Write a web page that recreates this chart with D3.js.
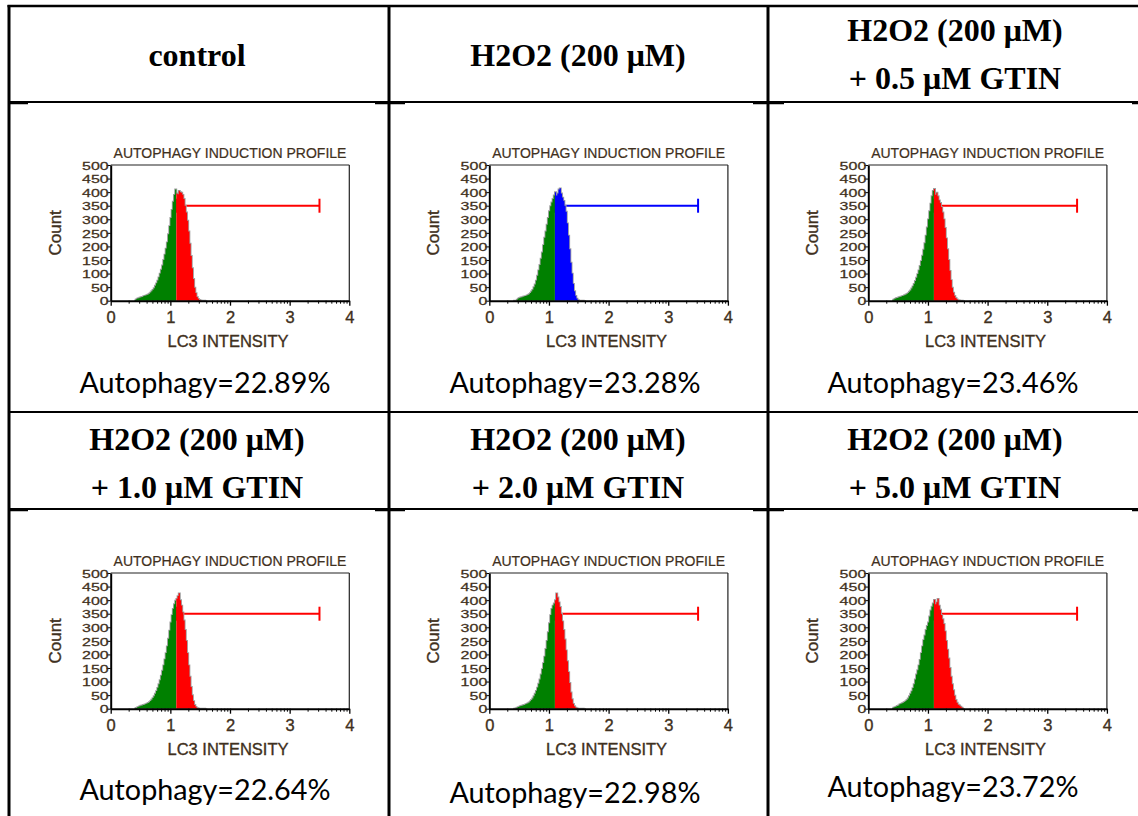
<!DOCTYPE html>
<html>
<head>
<meta charset="utf-8">
<script src="https://cdn.jsdelivr.net/npm/d3@7"></script>
<style>
  body { margin: 0; background: #ffffff; }
  svg { display: block; }
</style>
</head>
<body>
<svg id="chart" width="1138" height="816"></svg>
<script>
// ---------- data ----------
// lower edges of the LC3 intensity bins (log10 units)
const lc3Bins = [
  0.40, 0.42, 0.44, 0.46, 0.48, 0.50, 0.52, 0.54, 0.56, 0.58,
  0.60, 0.62, 0.64, 0.66, 0.68, 0.70, 0.72, 0.74, 0.76, 0.78,
  0.80, 0.82, 0.84, 0.86, 0.88, 0.90, 0.92, 0.94, 0.96, 0.98,
  1.00, 1.02, 1.04, 1.06, 1.08, 1.10, 1.12, 1.14, 1.16, 1.18,
  1.20, 1.22, 1.24, 1.26, 1.28, 1.30, 1.32, 1.34, 1.36, 1.38,
  1.40, 1.42, 1.44, 1.46, 1.48, 1.50, 1.52, 1.54, 1.56, 1.58
];
const binWidth = 0.02;

const countsControl = [
  3, 5, 8, 9, 11, 13, 14, 16, 18, 19,
  21, 23, 26, 30, 35, 40, 46, 55, 64, 74,
  86, 100, 114, 130, 150, 170, 192, 215, 245, 275,
  305, 335, 365, 390, 410, 395, 392, 405, 400, 398,
  390, 375, 350, 325, 295, 255, 210, 165, 120, 80,
  48, 28, 14, 7, 3, 1, 0, 0, 0, 0
];
const countsH2O2 = [
  0, 0, 0, 4, 8, 10, 12, 13, 15, 16,
  17, 19, 21, 24, 28, 34, 40, 50, 60, 74,
  92, 112, 132, 155, 178, 205, 232, 255, 280, 305,
  330, 348, 362, 375, 388, 400, 388, 395, 410, 414,
  395, 380, 368, 350, 328, 285, 240, 190, 140, 100,
  62, 35, 18, 8, 3, 0, 0, 0, 0, 0
];
const countsGtin05 = [
  2, 4, 7, 9, 10, 12, 14, 15, 17, 18,
  20, 22, 25, 28, 33, 38, 45, 53, 62, 73,
  85, 98, 112, 128, 146, 166, 188, 212, 240, 270,
  300, 330, 358, 385, 405, 412, 390, 398, 385, 370,
  360, 345, 325, 300, 268, 230, 190, 150, 110, 76,
  48, 30, 18, 10, 5, 2, 1, 0, 0, 0
];
const countsGtin10 = [
  2, 3, 5, 7, 9, 11, 12, 14, 15, 17,
  19, 21, 24, 28, 33, 39, 46, 55, 65, 77,
  90, 105, 122, 140, 160, 182, 205, 230, 258, 288,
  318, 345, 368, 385, 398, 405, 415, 425, 400, 380,
  355, 325, 290, 250, 205, 160, 118, 80, 50, 28,
  14, 7, 3, 1, 0, 0, 0, 0, 0, 0
];
const countsGtin20 = [
  0, 0, 2, 4, 6, 8, 10, 11, 13, 14,
  16, 18, 20, 23, 27, 32, 38, 46, 55, 66,
  78, 92, 108, 126, 146, 168, 192, 220, 250, 282,
  315, 345, 368, 380, 388, 400, 425, 410, 392, 375,
  350, 322, 290, 255, 215, 175, 135, 95, 60, 35,
  18, 9, 4, 2, 0, 0, 0, 0, 0, 0
];
const countsGtin50 = [
  2, 4, 6, 8, 10, 12, 16, 18, 20, 22,
  25, 28, 32, 38, 46, 55, 64, 76, 90, 108,
  126, 142, 160, 180, 205, 230, 253, 270, 290, 305,
  318, 340, 362, 376, 388, 401, 385, 392, 405, 380,
  365, 345, 330, 312, 285, 250, 218, 185, 150, 118,
  90, 68, 48, 32, 22, 15, 12, 8, 4, 2
];

const panelHeaders = [
  ["control"],
  ["H2O2 (200 μM)"],
  ["H2O2 (200 μM)", "+ 0.5 μM GTIN"],
  ["H2O2 (200 μM)", "+ 1.0 μM GTIN"],
  ["H2O2 (200 μM)", "+ 2.0 μM GTIN"],
  ["H2O2 (200 μM)", "+ 5.0 μM GTIN"]
];
const panelCounts = [countsControl, countsH2O2, countsGtin05, countsGtin10, countsGtin20, countsGtin50];
const autophagyPct = [22.89, 23.28, 23.46, 22.64, 22.98, 23.72];
const gateColors = ["#ff0000", "#0000ff", "#ff0000", "#ff0000", "#ff0000", "#ff0000"];
const gateRange = [1.1, 3.5];
const gateLevel = 350;
const xTickValues = [0, 1, 2, 3, 4];
const yTickValues = [0, 50, 100, 150, 200, 250, 300, 350, 400, 450, 500];

// ---------- layout ----------
const svg = d3.select("#chart");
const colLineX = [9, 389, 768];
const rowLineY = [6, 102, 412, 509];
const frameLeft = [110.7, 489.3, 868.3];
const frameTop = [165, 573];
const frameW = 238.6, frameH = 135.7;
const textCenterX = [205, 575, 953];
const headerCenterX = [197, 578, 955];
const pctBaseline = [[393, 393, 393], [800, 803, 797]];
const headerBaselines = { 1: [[66], [450]], 2: [[41, 89], [450, 498]] };

const inkBrown = "#3f3020";
const greenFill = "#008000";
const panelFont = "'Liberation Sans', Arial, sans-serif";

// panel lettering is slightly heavy, as in the instrument export
function inkText(sel, size) {
  return sel.style("font-family", panelFont).style("font-size", size)
    .attr("fill", inkBrown).attr("stroke", inkBrown).attr("stroke-width", 0.35);
}

// table rules
const grid = svg.append("g").attr("class", "table-grid").attr("stroke", "#000");
grid.append("line").attr("x1", colLineX[0] - 1.5).attr("x2", 1138).attr("y1", rowLineY[0]).attr("y2", rowLineY[0]).attr("stroke-width", 2.5);
[rowLineY[1], rowLineY[2], rowLineY[3]].forEach(yy => {
  grid.append("line").attr("x1", colLineX[0]).attr("x2", 1138).attr("y1", yy).attr("y2", yy).attr("stroke-width", 2);
});
colLineX.forEach(xx => {
  grid.append("line").attr("x1", xx).attr("x2", xx).attr("y1", rowLineY[0] - 1).attr("y2", 816).attr("stroke-width", 3);
});
// short heavier joints under the header rules
[rowLineY[1], rowLineY[3]].forEach(yy => {
  [[colLineX[0], colLineX[0] + 19], [colLineX[1] - 14, colLineX[1] + 16], [colLineX[2] - 15, colLineX[2] + 16], [1132, 1138]].forEach(seg => {
    grid.append("line").attr("x1", seg[0]).attr("x2", seg[1]).attr("y1", yy + 1.5).attr("y2", yy + 1.5).attr("stroke-width", 1.5);
  });
});

const minorTicks = [];
for (let k = 0; k < 4; k++) for (let m = 2; m <= 9; m++) minorTicks.push(k + Math.log10(m));

panelHeaders.forEach((lines, i) => {
  const col = i % 3, row = Math.floor(i / 3);
  const counts = panelCounts[i];
  const gateColor = gateColors[i];

  // header text
  const hb = headerBaselines[lines.length][row];
  const head = svg.append("g").attr("class", "header");
  lines.forEach((t, li) => {
    head.append("text")
      .attr("x", headerCenterX[col]).attr("y", hb[li])
      .attr("text-anchor", "middle")
      .style("font-family", "'Liberation Serif', 'Times New Roman', serif")
      .style("font-weight", "bold").style("font-size", "32px")
      .attr("fill", "#000")
      .text(t);
  });

  // histogram panel
  const g = svg.append("g").attr("transform", `translate(${frameLeft[col]},${frameTop[row]})`);
  const x = d3.scaleLinear().domain([0, 4]).range([0, frameW]);
  const y = d3.scaleLinear().domain([0, 500]).range([frameH, 0]);

  const data = lc3Bins.map((b, j) => ({ x0: b, c: counts[j] }));
  const last = data[data.length - 1];
  const stepData = data.concat([{ x0: last.x0 + binWidth, c: last.c }]);
  const leftPart = stepData.filter(d => d.x0 < gateRange[0] + 1e-9);
  const rightPart = stepData.filter(d => d.x0 >= gateRange[0] - 1e-9);

  const area = d3.area().curve(d3.curveStepAfter)
    .x(d => x(d.x0)).y0(y(0)).y1(d => y(d.c));
  const line = d3.line().curve(d3.curveStepAfter)
    .x(d => x(d.x0)).y(d => y(d.c));

  // gate marker (sits behind the histogram)
  const gate = g.append("g").attr("stroke", gateColor).attr("stroke-width", 2).attr("fill", "none");
  gate.append("line").attr("x1", x(gateRange[0])).attr("x2", x(gateRange[1]))
    .attr("y1", y(gateLevel)).attr("y2", y(gateLevel));
  gateRange.forEach(v => {
    gate.append("line").attr("x1", x(v)).attr("x2", x(v))
      .attr("y1", y(gateLevel) - 7).attr("y2", y(gateLevel) + 7);
  });

  // histogram outline + fills
  g.append("path").datum(stepData).attr("d", line)
    .attr("fill", "none").attr("stroke", "#a0a0a0").attr("stroke-width", 1.8);
  g.append("path").datum(leftPart).attr("d", area).attr("fill", greenFill);
  g.append("path").datum(rightPart).attr("d", area).attr("fill", gateColor);

  // frame
  g.append("line").attr("x1", 0).attr("x2", frameW).attr("y1", 0).attr("y2", 0).attr("stroke", "#222").attr("stroke-width", 1.2);
  g.append("line").attr("x1", frameW).attr("x2", frameW).attr("y1", 0).attr("y2", frameH).attr("stroke", "#222").attr("stroke-width", 1.2);

  // x axis: major + minor (log) ticks
  const xAxisG = g.append("g").attr("transform", `translate(0,${frameH})`)
    .call(d3.axisBottom(x).tickValues(xTickValues).tickSize(5).tickSizeOuter(0).tickFormat(d3.format("d")));
  xAxisG.select(".domain").attr("stroke", "#000").attr("stroke-width", 2);
  xAxisG.selectAll(".tick line").attr("stroke", "#000").attr("stroke-width", 1.3);
  inkText(xAxisG.selectAll(".tick text").attr("y", 22).attr("dy", 0), "16.5px");
  const xMinorG = g.append("g").attr("transform", `translate(0,${frameH})`)
    .call(d3.axisBottom(x).tickValues(minorTicks).tickSize(3).tickSizeOuter(0).tickFormat(""));
  xMinorG.select(".domain").remove();
  xMinorG.selectAll(".tick line").attr("stroke", "#000").attr("stroke-width", 1);

  // y axis (labels squeezed vertically to fit the tight 50-count spacing)
  const yAxisG = g.append("g")
    .call(d3.axisLeft(y).tickValues(yTickValues).tickSize(4).tickSizeOuter(0));
  yAxisG.select(".domain").attr("stroke", "#000").attr("stroke-width", 2);
  yAxisG.selectAll(".tick line").attr("stroke", "#000").attr("stroke-width", 1);
  inkText(yAxisG.selectAll(".tick text").attr("x", -2).attr("dy", "0.36em")
    .attr("transform", "scale(1,0.72)"), "16px");

  // titles
  inkText(g.append("text").attr("x", frameW / 2).attr("y", -7).attr("text-anchor", "middle"), "14px")
    .attr("stroke-width", 0.2).text("AUTOPHAGY INDUCTION PROFILE");
  inkText(g.append("text").attr("x", frameW / 2 - 2).attr("y", frameH + 46).attr("text-anchor", "middle"), "16.5px")
    .text("LC3 INTENSITY");
  inkText(g.append("text").attr("transform", `translate(-50,${frameH / 2}) rotate(-90)`).attr("text-anchor", "middle"), "17px")
    .text("Count");

  // autophagy percentage
  svg.append("text")
    .attr("x", textCenterX[col]).attr("y", pctBaseline[row][col])
    .attr("text-anchor", "middle")
    .attr("textLength", 251).attr("lengthAdjust", "spacingAndGlyphs")
    .style("font-family", "Lato, 'Open Sans', sans-serif").style("font-size", "29px")
    .attr("fill", "#000")
    .text(`Autophagy=${autophagyPct[i].toFixed(2)}%`);
});
</script>
</body>
</html>
